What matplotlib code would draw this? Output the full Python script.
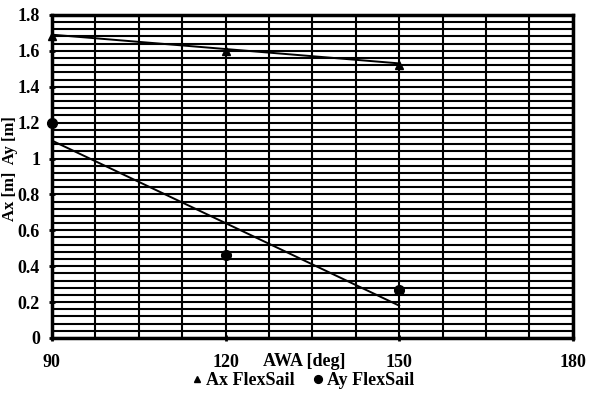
import numpy as np
import matplotlib
matplotlib.use("Agg")
from matplotlib import pyplot as plt
from matplotlib.ticker import MultipleLocator

awa = [90, 120, 150]
ax_flex = [1.68, 1.60, 1.52]
ay_flex = [1.20, 0.46, 0.27]

# trendline ends
trend_x = [90, 150]
ax_trend = [1.69, 1.53]
ay_trend = [1.10, 0.18]

xticks = [90, 120, 150, 180]
yticks = [0, 0.2, 0.4, 0.6, 0.8, 1, 1.2, 1.4, 1.6, 1.8]

plt.rcParams['font.family'] = ['Liberation Serif', 'DejaVu Serif']
plt.rcParams['font.weight'] = 'bold'

fig = plt.figure(figsize=(5.9, 3.93), dpi=100)
ax = fig.add_axes([0.088, 0.14, 0.883, 0.822])

ax.set_xlim(90, 180)
ax.set_ylim(0, 1.8)
ax.set_xticks(xticks)
ax.set_xticklabels([str(t) for t in xticks])
ax.set_yticks(yticks)
ax.set_yticklabels(['0', '0.2', '0.4', '0.6', '0.8', '1', '1.2', '1.4', '1.6', '1.8'])
ax.xaxis.set_minor_locator(MultipleLocator(7.5))
ax.yaxis.set_minor_locator(MultipleLocator(0.04))
ax.grid(which='both', color='black', linewidth=1.5)
ax.set_axisbelow(True)
ax.tick_params(axis='both', which='major', labelsize=13, width=2, length=5, direction='inout')
ax.tick_params(axis='both', which='minor', length=0)
ax.tick_params(axis='x', pad=9)
ax.tick_params(axis='y', pad=6)
for s in ax.spines.values():
    s.set_linewidth(2.5)

ax.plot(trend_x, ax_trend, color='black', lw=1.4)
ax.plot(trend_x, ay_trend, color='black', lw=1.4)
l1, = ax.plot(awa, ax_flex, '^', color='black', ms=6, linestyle='none', clip_on=False)
l2, = ax.plot(awa, ay_flex, 'o', color='black', ms=7, linestyle='none', clip_on=False)

fig.text(0.515, 0.08, 'AWA [deg]', ha='center', va='center', fontsize=13, fontweight='bold')
fig.text(0.017, 0.57, 'Ax [m]  Ay [m]', rotation=90, ha='center', va='center',
         fontsize=12, fontweight='bold')

fig.legend([l1, l2], ['Ax FlexSail', 'Ay FlexSail'], loc='center', bbox_to_anchor=(0.51, 0.032),
           ncol=2, frameon=False, fontsize=13, handletextpad=0.0, columnspacing=0.8,
           handlelength=1.0, markerscale=0.8, borderpad=0)

fig.savefig('out.png', dpi=100)
